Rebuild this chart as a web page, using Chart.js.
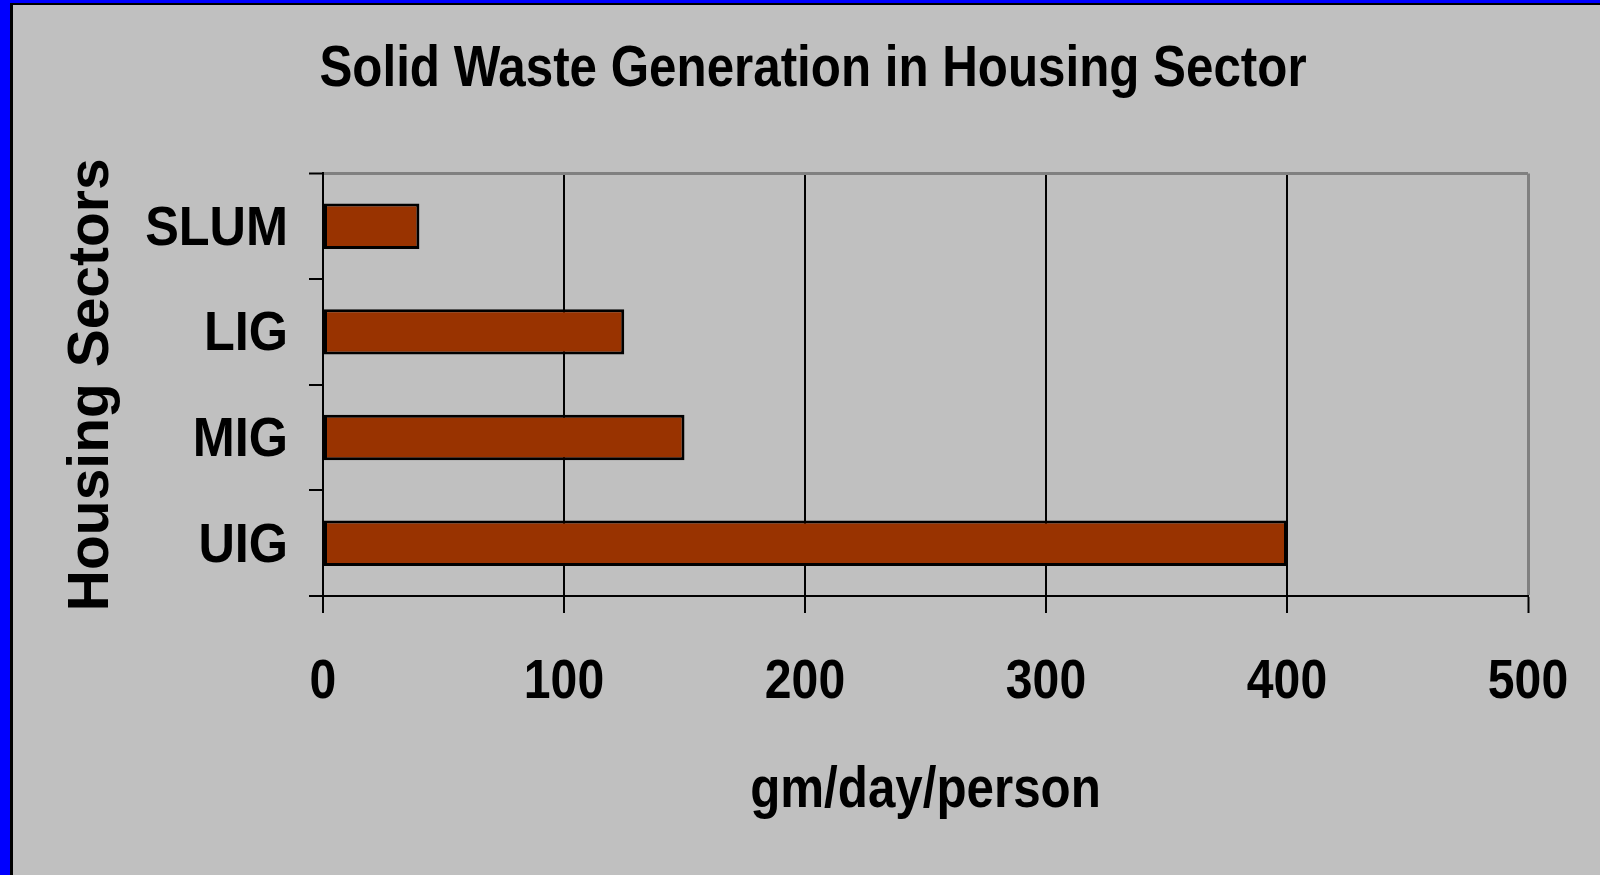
<!DOCTYPE html>
<html>
<head>
<meta charset="utf-8">
<title>Solid Waste Generation in Housing Sector</title>
<script src="https://cdn.jsdelivr.net/npm/chart.js@4.4.1/dist/chart.umd.min.js"></script>
<style>
  html, body { margin: 0; padding: 0; width: 1600px; height: 875px; overflow: hidden; background: #0000ff; }
  #frame { position: absolute; left: 10px; top: 3px; right: 0; bottom: 0; background: #000; }
  #panel { position: absolute; left: 13px; top: 5px; right: 0; bottom: 0; background: #c0c0c0; }
  #chart { position: absolute; left: 26px; top: 0; }
</style>
</head>
<body>
<div id="frame"></div>
<div id="panel"></div>
<canvas id="chart" width="1574" height="875"></canvas>
<script>
const sectors = ['SLUM', 'LIG', 'MIG', 'UIG'];
const wastePerPerson = [40, 125, 150, 400];
const xTickValues = [0, 100, 200, 300, 400, 500];

const sans = "'Liberation Sans', Arial, sans-serif";

// no narrow face installed, so horizontal text is squeezed by hand;
// the amount depends on the font size in use (titles, y labels, x ticks)
const squeezeBySize = { 57: 0.865, 56: 0.90, 55: 0.875 };

const squeezeText = {
    id: 'squeezeText',
    beforeInit(chart) {
        const ctx = chart.ctx;
        const fillText = ctx.fillText;
        ctx.fillText = function (text, x, y, maxWidth) {
            const m = this.getTransform();
            const size = parseInt((this.font.match(/(\d+)px/) || [])[1], 10);
            const k = squeezeBySize[size] || 0.86;
            if (m.b !== 0 || m.c !== 0) {
                // rotated text (the y-axis title) keeps its full width
                return fillText.call(this, text, x, y, maxWidth);
            }
            this.save();
            this.translate(x, y);
            this.scale(k, 1);
            fillText.call(this, text, 0, 0, maxWidth === undefined ? undefined : maxWidth / k);
            this.restore();
        };
    }
};

Chart.defaults.font.family = sans;
Chart.defaults.color = '#000';

new Chart(document.getElementById('chart'), {
    type: 'bar',
    data: {
        labels: sectors,
        datasets: [{
            label: 'gm/day/person',
            data: wastePerPerson,
            xAxisID: 'x',
            yAxisID: 'y',
            backgroundColor: '#993300',
            borderColor: '#000',
            borderWidth: 3,
            borderSkipped: false,
            categoryPercentage: 1,
            barPercentage: 0.43
        }]
    },
    plugins: [squeezeText],
    options: {
        indexAxis: 'y',
        responsive: false,
        animation: false,
        devicePixelRatio: 1,
        layout: { padding: 0 },
        plugins: {
            legend: { display: false },
            tooltip: { enabled: false },
            title: {
                display: true,
                text: 'Solid Waste Generation in Housing Sector',
                color: '#000',
                font: { size: 57, weight: 'bold' },
                padding: { top: 36, bottom: 69 }
            }
        },
        scales: {
            x: {
                type: 'linear',
                position: 'bottom',
                min: 0,
                max: 500,
                afterBuildTicks: s => { s.ticks = xTickValues.map(v => ({ value: v })); },
                afterFit: s => {
                    s.height = 279;
                    // the "500" label hangs into the right strip, no extra room needed
                    s.paddingRight = 0;
                },
                border: { display: true, color: '#000', width: 2 },
                grid: {
                    color: c => c.tick && c.tick.value === 500 ? '#808080' : '#000',
                    lineWidth: c => c.tick && c.tick.value === 500 ? 3 : 2,
                    tickColor: '#000',
                    tickWidth: 2,
                    tickLength: 17
                },
                ticks: {
                    padding: 37,
                    font: { size: 55, weight: 'bold' }
                },
                title: {
                    display: true,
                    text: 'gm/day/person',
                    font: { size: 57, weight: 'bold' },
                    padding: 50
                }
            },
            y: {
                type: 'category',
                position: 'left',
                afterFit: s => { s.width = 297; },
                border: { display: true, color: '#000', width: 2 },
                grid: {
                    offset: true,
                    color: c => c.index === 0 ? '#808080' : 'rgba(0,0,0,0)',
                    lineWidth: c => c.index === 0 ? 3 : 2,
                    tickColor: '#000',
                    tickWidth: 2,
                    tickLength: 14
                },
                ticks: {
                    padding: 21,
                    labelOffset: 3,
                    font: { size: 56, weight: 'bold' }
                },
                title: {
                    display: true,
                    text: 'Housing Sectors',
                    font: { size: 57, weight: 'bold' },
                    padding: 32
                }
            },
            // empty right-hand strip so the plot stops short of the panel edge
            yRight: {
                type: 'category',
                position: 'right',
                afterFit: s => { s.width = 72; },
                border: { display: false },
                grid: { display: false },
                ticks: { display: false }
            }
        }
    }
});
</script>
</body>
</html>
